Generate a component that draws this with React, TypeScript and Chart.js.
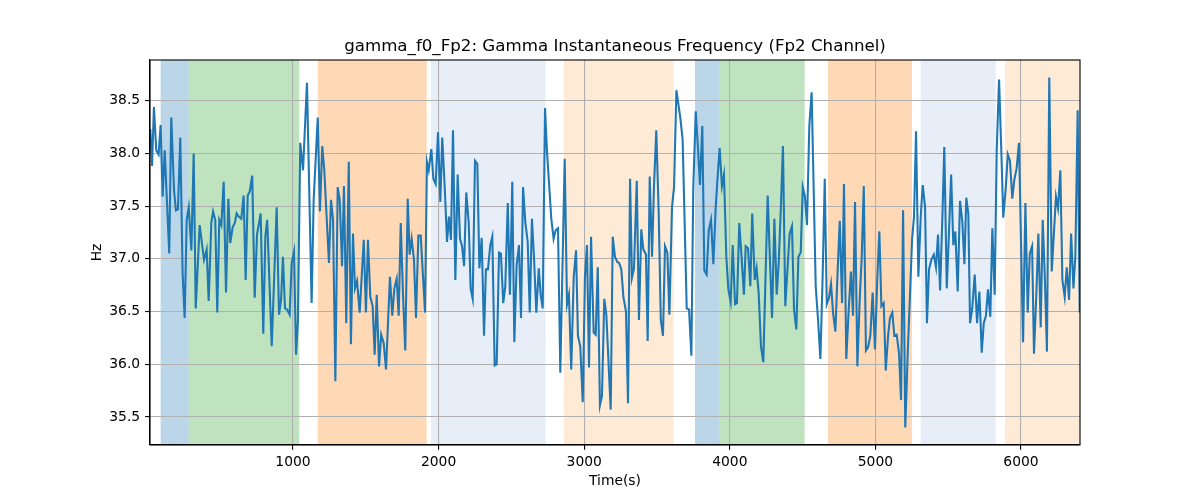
import React, { useEffect, useRef } from "react";
import { Chart, registerables } from "chart.js";

Chart.register(...registerables);

// time stamps (s) of the gamma instantaneous frequency samples
const timePoints = [
  20, 32, 45, 61, 77, 91, 105, 119, 150, 164, 183, 196, 210, 226, 242, 256, 270, 284, 302, 318,
  332, 359, 389, 407, 421, 439, 451, 466, 480, 494, 508, 524, 540, 556, 569, 586, 600, 613, 627, 645,
  661, 675, 689, 703, 720, 737, 753, 778, 796, 810, 823, 854, 888, 904, 918, 931, 945, 959, 977, 991,
  1007, 1021, 1034, 1050, 1069, 1096, 1128, 1142, 1170, 1185, 1201, 1215, 1247, 1261, 1275, 1291, 1307, 1321, 1337, 1350,
  1366, 1383, 1398, 1412, 1426, 1440, 1458, 1486, 1501, 1515, 1531, 1547, 1561, 1575, 1591, 1606, 1623, 1639, 1666, 1682,
  1696, 1712, 1726, 1740, 1755, 1771, 1788, 1801, 1815, 1831, 1845, 1861, 1877, 1891, 1907, 1920, 1932, 1950, 1964, 1980,
  1996, 2012, 2025, 2042, 2058, 2071, 2085, 2099, 2115, 2131, 2147, 2161, 2175, 2190, 2207, 2220, 2234, 2250, 2266, 2280,
  2296, 2312, 2325, 2339, 2355, 2369, 2385, 2399, 2415, 2428, 2444, 2458, 2475, 2490, 2506, 2520, 2536, 2552, 2566, 2580,
  2596, 2612, 2626, 2641, 2655, 2671, 2688, 2701, 2715, 2731, 2744, 2774, 2790, 2804, 2820, 2836, 2866, 2882, 2895, 2911,
  2928, 2944, 2957, 2973, 2990, 3005, 3019, 3033, 3047, 3065, 3079, 3093, 3108, 3122, 3138, 3152, 3182, 3196, 3211, 3227,
  3240, 3255, 3269, 3287, 3301, 3315, 3328, 3342, 3361, 3376, 3392, 3406, 3424, 3436, 3450, 3466, 3479, 3495, 3512, 3526,
  3541, 3555, 3571, 3585, 3603, 3617, 3633, 3660, 3676, 3704, 3720, 3736, 3749, 3766, 3782, 3795, 3811, 3825, 3841, 3855,
  3871, 3887, 3903, 3916, 3930, 3946, 3960, 3976, 3990, 4006, 4020, 4036, 4049, 4065, 4082, 4097, 4109, 4125, 4141, 4154,
  4171, 4184, 4198, 4214, 4230, 4260, 4290, 4306, 4322, 4336, 4350, 4365, 4381, 4395, 4411, 4427, 4441, 4457, 4471, 4487,
  4501, 4516, 4530, 4546, 4562, 4590, 4606, 4622, 4638, 4652, 4666, 4681, 4695, 4709, 4725, 4741, 4755, 4771, 4784, 4800,
  4817, 4832, 4846, 4860, 4876, 4892, 4906, 4920, 4935, 4949, 4965, 4981, 4997, 5013, 5027, 5041, 5057, 5071, 5087, 5100,
  5116, 5130, 5146, 5162, 5176, 5190, 5205, 5222, 5238, 5252, 5265, 5279, 5295, 5311, 5325, 5341, 5354, 5368, 5384, 5401,
  5416, 5430, 5444, 5460, 5473, 5490, 5504, 5520, 5535, 5549, 5565, 5581, 5597, 5611, 5624, 5638, 5650, 5665, 5682, 5698,
  5714, 5730, 5744, 5759, 5773, 5789, 5803, 5819, 5833, 5849, 5865, 5878, 5895, 5909, 5924, 5940, 5954, 5970, 5986, 6014,
  6030, 6046, 6060, 6076, 6089, 6105, 6119, 6135, 6149, 6164, 6178, 6194, 6211, 6240, 6254, 6270, 6284, 6300, 6314, 6330,
  6344, 6360, 6373, 6389, 6403,
];

// frequency values (Hz)
const freqValues = [
  38.23, 37.88, 38.44, 38.03, 37.99, 38.27, 37.59, 38.03, 37.05, 38.34, 37.65, 37.46, 37.47, 38.15, 36.86, 36.44, 37.37, 37.49, 37.08, 38.0,
  36.53, 37.32, 36.99, 37.09, 36.6, 37.34, 37.45, 37.37, 36.49, 37.37, 37.32, 37.73, 36.68, 37.57, 37.15, 37.3, 37.34, 37.43, 37.4, 37.38,
  37.6, 36.8, 37.6, 37.64, 37.79, 36.63, 37.23, 37.43, 36.29, 37.21, 37.37, 36.17, 37.49, 36.47, 36.61, 37.02, 36.53, 36.52, 36.47, 36.96,
  37.07, 36.09, 36.42, 38.1, 37.84, 38.67, 36.58, 37.56, 38.34, 37.45, 38.07, 37.84, 36.96, 37.56, 37.37, 35.84, 37.68, 37.56, 36.93, 37.69,
  36.39, 37.92, 36.19, 37.24, 36.72, 36.79, 36.49, 37.18, 36.49, 37.18, 36.64, 36.55, 36.09, 36.66, 35.98, 36.28, 36.2, 35.95, 36.83, 36.46,
  36.72, 36.81, 36.46, 37.34, 36.68, 36.13, 37.57, 37.04, 37.19, 36.99, 36.44, 37.22, 37.22, 36.88, 36.49, 37.92, 37.84, 38.04, 37.76, 37.71,
  38.2, 37.54, 38.15, 37.68, 37.16, 37.4, 37.18, 38.22, 36.8, 37.8, 37.19, 37.12, 36.93, 37.63, 37.34, 36.72, 36.62, 37.93, 37.9, 36.91,
  37.2, 36.27, 36.9, 36.9, 37.13, 37.21, 35.99, 36.0, 37.06, 37.05, 36.58, 36.74, 37.53, 36.66, 37.73, 36.21, 36.94, 37.13, 36.44, 37.68,
  37.34, 37.16, 36.49, 37.38, 37.02, 36.49, 36.91, 36.66, 36.53, 38.43, 38.03, 37.38, 37.19, 37.27, 37.29, 35.92, 37.95, 36.57, 36.66, 35.95,
  36.83, 37.08, 36.27, 36.17, 35.64, 36.82, 37.13, 35.97, 37.21, 36.3, 36.28, 36.92, 35.61, 35.7, 36.62, 36.47, 35.57, 37.21, 37.02, 36.97,
  36.96, 36.9, 36.64, 36.5, 35.63, 37.76, 36.82, 36.91, 37.74, 36.42, 37.28, 37.09, 37.04, 36.22, 37.78, 37.02, 37.68, 38.22, 37.42, 36.42,
  36.27, 37.12, 37.06, 36.47, 37.49, 37.68, 38.6, 38.34, 38.13, 36.53, 36.52, 36.08, 37.67, 38.4, 38.03, 37.7, 38.26, 36.89, 36.85, 37.27,
  37.37, 36.95, 37.49, 37.77, 38.05, 37.69, 37.8, 37.02, 36.71, 36.59, 37.13, 36.57, 36.58, 37.34, 36.99, 36.66, 37.12, 37.1, 36.74, 37.43,
  36.8, 36.91, 36.68, 36.17, 36.02, 37.6, 36.44, 37.38, 36.66, 36.97, 37.46, 38.07, 36.55, 36.88, 37.24, 37.31, 36.52, 36.33, 37.02, 37.06,
  37.68, 37.59, 37.32, 38.26, 38.58, 36.74, 36.42, 36.05, 36.86, 37.76, 36.57, 36.63, 36.76, 36.49, 36.31, 36.9, 37.36, 36.58, 37.71, 36.05,
  36.53, 36.88, 36.46, 37.54, 35.98, 36.61, 37.02, 37.69, 36.13, 36.16, 36.27, 36.68, 36.14, 36.82, 37.26, 36.55, 36.58, 35.94, 36.27, 36.44,
  36.49, 36.27, 36.28, 36.11, 35.66, 37.46, 35.4, 36.11, 36.68, 37.19, 37.4, 38.21, 36.83, 37.4, 37.7, 37.49, 36.39, 36.9, 36.99, 37.04,
  36.92, 37.23, 36.7, 37.4, 38.06, 36.72, 37.21, 37.8, 37.13, 37.26, 36.69, 37.55, 37.35, 36.95, 37.58, 37.43, 36.39, 36.53, 36.85, 36.39,
  36.69, 36.11, 36.39, 36.46, 36.71, 36.45, 37.29, 36.66, 38.03, 38.7, 38.01, 37.39, 37.67, 37.99, 37.93, 37.57, 37.75, 37.86, 38.1, 36.21,
  37.53, 36.49, 37.05, 37.12, 36.1, 36.66, 37.24, 36.35, 37.37, 36.8, 36.12, 38.72, 36.88, 37.59, 37.48, 37.84, 36.8, 36.64, 36.92, 36.61,
  37.24, 36.72, 37.02, 38.41, 36.49,
];

// shaded phase bands
const spanStarts = [91, 284, 1170, 1948, 2861, 3761, 3928, 4674, 5311, 5890];
const spanEnds = [284, 1043, 1918, 2735, 3614, 3928, 4514, 5251, 5826, 6405];
const spanColors = [
  "rgba(31, 119, 180, 0.3)",
  "rgba(44, 160, 44, 0.3)",
  "rgba(255, 127, 14, 0.3)",
  "rgba(174, 199, 232, 0.3)",
  "rgba(255, 187, 120, 0.3)",
  "rgba(31, 119, 180, 0.3)",
  "rgba(44, 160, 44, 0.3)",
  "rgba(255, 127, 14, 0.3)",
  "rgba(174, 199, 232, 0.3)",
  "rgba(255, 187, 120, 0.3)",
];

const xTicks = [1000, 2000, 3000, 4000, 5000, 6000];
const yTicks = [35.5, 36.0, 36.5, 37.0, 37.5, 38.0, 38.5];

const FONT = "'DejaVu Sans', sans-serif";

const overlayPlugin = {
  id: "overlay",
  beforeDraw(chart: any) {
    const { ctx, chartArea, scales } = chart;
    ctx.save();
    for (let i = 0; i < spanStarts.length; i++) {
      const x0 = scales.x.getPixelForValue(spanStarts[i]);
      const x1 = scales.x.getPixelForValue(spanEnds[i]);
      ctx.fillStyle = spanColors[i];
      ctx.fillRect(x0, chartArea.top, x1 - x0, chartArea.bottom - chartArea.top);
    }
    ctx.restore();
  },
  afterDraw(chart: any) {
    const { ctx, chartArea } = chart;
    ctx.save();
    // axes frame
    ctx.strokeStyle = "#000";
    ctx.lineWidth = 1.1;
    ctx.strokeRect(
      chartArea.left,
      chartArea.top,
      chartArea.right - chartArea.left,
      chartArea.bottom - chartArea.top
    );
    const cx = (chartArea.left + chartArea.right) / 2;
    ctx.fillStyle = "#000";
    ctx.textAlign = "center";
    // title
    ctx.font = `16.67px ${FONT}`;
    ctx.textBaseline = "alphabetic";
    ctx.fillText(
      "gamma_f0_Fp2: Gamma Instantaneous Frequency (Fp2 Channel)",
      cx,
      chartArea.top - 9
    );
    // axis labels
    ctx.font = `13.89px ${FONT}`;
    ctx.textBaseline = "middle";
    ctx.fillText("Time(s)", cx, 481);
    ctx.translate(97, (chartArea.top + chartArea.bottom) / 2);
    ctx.rotate(-Math.PI / 2);
    ctx.fillText("Hz", 0, 0);
    ctx.restore();
  },
};

export default function App() {
  const canvasRef = useRef<HTMLCanvasElement>(null);

  useEffect(() => {
    if (!canvasRef.current) return;
    const points = timePoints.map((t, i) => ({ x: t, y: freqValues[i] }));

    const chart = new Chart(canvasRef.current, {
      type: "line",
      data: {
        datasets: [
          {
            label: "gamma_f0_Fp2",
            data: points,
            borderColor: "#1f77b4",
            borderWidth: 2.08,
            pointRadius: 0,
            tension: 0,
            fill: false,
          },
        ],
      },
      options: {
        animation: false,
        responsive: true,
        maintainAspectRatio: false,
        layout: { padding: { left: 0, right: 120, top: 60, bottom: 0 } },
        plugins: {
          legend: { display: false },
          tooltip: { enabled: false },
          title: { display: false },
        },
        scales: {
          x: {
            type: "linear",
            min: 18,
            max: 6405,
            afterFit: (s: any) => {
              s.height = 55;
            },
            afterBuildTicks: (s: any) => {
              s.ticks = xTicks.map((v) => ({ value: v }));
            },
            grid: {
              color: "#b0b0b0",
              lineWidth: 1.1,
              tickLength: 4.86,
              tickColor: "#000",
              tickWidth: 1.1,
            },
            border: { display: true, color: "#000", width: 1.1 },
            ticks: {
              color: "#000",
              font: { family: FONT, size: 13.89 },
              padding: 4,
              maxRotation: 0,
              callback: (v: any) => String(v),
            },
          },
          y: {
            type: "linear",
            min: 35.234,
            max: 38.886,
            afterFit: (s: any) => {
              s.width = 150;
            },
            afterBuildTicks: (s: any) => {
              s.ticks = yTicks.map((v) => ({ value: v }));
            },
            grid: {
              color: "#b0b0b0",
              lineWidth: 1.1,
              tickLength: 4.86,
              tickColor: "#000",
              tickWidth: 1.1,
            },
            border: { display: true, color: "#000", width: 1.1 },
            ticks: {
              color: "#000",
              font: { family: FONT, size: 13.89 },
              padding: 5,
              callback: (v: any) => Number(v).toFixed(1),
            },
          },
        },
      },
      plugins: [overlayPlugin],
    });

    return () => chart.destroy();
  }, []);

  return (
    <div
      style={{
        position: "fixed",
        left: 0,
        top: 0,
        width: 1200,
        height: 500,
        background: "#fff",
      }}
    >
      <canvas ref={canvasRef} />
    </div>
  );
}
